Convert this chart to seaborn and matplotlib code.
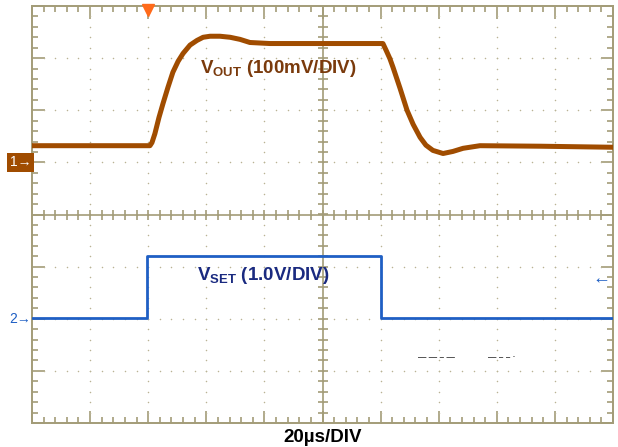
import numpy as np
import pandas as pd
import matplotlib
matplotlib.use('Agg')
import matplotlib.pyplot as plt
import seaborn as sns

# datos (tiempo en us, amplitud en divisiones desde el centro)
t_vout = [0, 40.6, 41.3, 42.3, 43.7, 45.1, 46.8, 48.5, 50.3, 52.0, 54.4, 56.8,
          58.9, 61.3, 64.7, 68.2, 71.6, 75.0, 81.9, 100, 120.8, 121.9, 123.2,
          124.3, 126.7, 129.1, 131.2, 133.6, 135.6, 138.0, 141.5, 144.9, 148.4,
          154.2, 175, 200]
vout = [1.32, 1.32, 1.38, 1.55, 1.86, 2.13, 2.44, 2.73, 2.94, 3.09, 3.25, 3.34,
        3.40, 3.42, 3.42, 3.40, 3.36, 3.30, 3.28, 3.28, 3.28, 3.15, 2.99,
        2.82, 2.42, 2.00, 1.73, 1.48, 1.33, 1.23, 1.17, 1.21, 1.27,
        1.32, 1.31, 1.29]

t_vset = [0, 39.6, 39.6, 120.2, 120.2, 200]
vset = [-1.98, -1.98, -0.79, -0.79, -1.98, -1.98]

sns.set_style("white")
plt.rcParams['font.family'] = ['Liberation Sans', 'DejaVu Sans']
plt.rcParams['mathtext.fontset'] = 'custom'
plt.rcParams['mathtext.rm'] = 'Liberation Sans:bold'
plt.rcParams['mathtext.bf'] = 'Liberation Sans:bold'

frame_col = '#a39c78'
dot_col = '#b9b394'
brown = '#a04c00'
blue = '#1f5fc4'

fig = plt.figure(figsize=(6.18, 4.47), dpi=100)
ax = fig.add_axes([32/618, 1-423/447, 581/618, 417/447])

df_out = pd.DataFrame({'t': t_vout, 'v': vout})
df_set = pd.DataFrame({'t': t_vset, 'v': vset})

# reticula punteada
for i in range(1, 10):
    ys = np.arange(-4, 4.01, 0.2)
    ax.scatter(np.full(len(ys), i * 20), ys, s=1.2, color=dot_col, lw=0, zorder=1)
for j in range(-3, 4):
    xs = np.arange(0, 200.1, 4)
    ax.scatter(xs, np.full(len(xs), j), s=1.2, color=dot_col, lw=0, zorder=1)

# ejes centrales con marcas
ax.axhline(0, color=frame_col, lw=1.2, zorder=2)
ax.axvline(100, color=frame_col, lw=1.2, zorder=2)
xm = np.arange(4, 200, 4)
ax.plot(xm, np.zeros(len(xm)), ls='none', marker='|', ms=7, color=frame_col, mew=1.2, zorder=2)
ym = np.arange(-4, 4.01, 0.2)
ax.plot(np.full(len(ym), 100), ym, ls='none', marker='_', ms=7, color=frame_col, mew=1.2, zorder=2)

sns.lineplot(data=df_out, x='t', y='v', ax=ax, color=brown, lw=3.6,
             estimator=None, sort=False, zorder=4)
sns.lineplot(data=df_set, x='t', y='v', ax=ax, color=blue, lw=2.0,
             estimator=None, sort=False, zorder=4)

ax.set_xlim(0, 200)
ax.set_ylim(-4, 4)
ax.set_xlabel('')
ax.set_ylabel('')
ax.set_xticks(np.arange(0, 201, 20))
ax.set_xticks(np.arange(0, 201, 4), minor=True)
ax.set_yticks(np.arange(-4, 5, 1))
ax.set_yticks(np.arange(-4, 4.01, 0.2), minor=True)
ax.tick_params(which='both', direction='in', top=True, right=True, bottom=True, left=True,
               labelbottom=False, labelleft=False, color=frame_col, width=1.2)
ax.tick_params(which='major', length=9)
ax.tick_params(which='minor', length=4)
for s in ax.spines.values():
    s.set_color(frame_col)
    s.set_linewidth(1.4)

ax.text(57.8, 2.8, r'V$_{\mathrm{OUT}}$ (100mV/DIV)', color='#7a3a0c', fontsize=13.5,
        fontweight='bold', va='center', ha='left', zorder=5)
ax.text(56.8, -1.17, r'V$_{\mathrm{SET}}$ (1.0V/DIV)', color='#1a2a80', fontsize=13.5,
        fontweight='bold', va='center', ha='left', zorder=5)
ax.text(100, -4.27, '20µs/DIV', color='black', fontsize=13.5, fontweight='bold',
        ha='center', va='center', clip_on=False)

# marcadores del osciloscopio
ax.text(-0.3, 1.0, '1\u2192', color='white', fontsize=10, ha='right', va='center',
        bbox=dict(boxstyle='square,pad=0.2', fc=brown, ec='none'), clip_on=False)
ax.text(-0.3, -2.0, '2\u2192', color=blue, fontsize=10, ha='right', va='center', clip_on=False)
ax.plot([40], [3.93], marker='v', ms=8, color='#ff6a1a', clip_on=False, zorder=6)
ax.text(199, -1.23, '\u2190', color=blue, fontsize=13, ha='right', va='center')
ax.text(133, -2.74, '\u2014 \u2014 \u2013 \u2014', color='#222222', fontsize=6,
        fontweight='bold', va='center')
ax.text(157, -2.74, '\u2014 \u2013 \u2013 \u00b7', color='#222222', fontsize=6,
        fontweight='bold', va='center')

fig.savefig('out.png', dpi=100)
